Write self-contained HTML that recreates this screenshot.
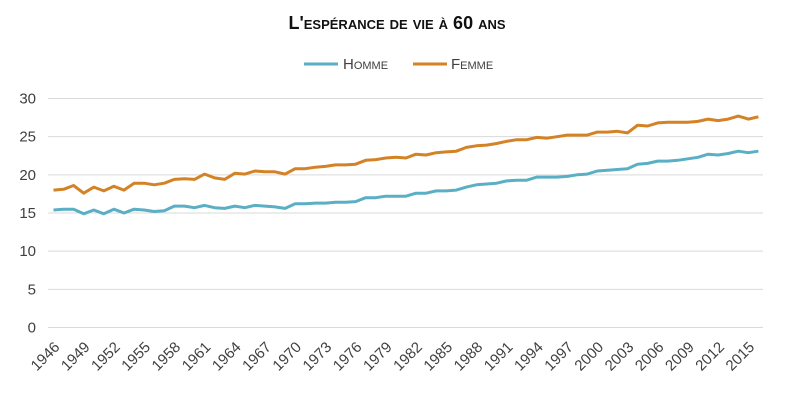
<!DOCTYPE html>
<html><head><meta charset="utf-8"><style>
body{margin:0;background:#fff;}
svg{display:block;font-family:"Liberation Sans",sans-serif;}
</style></head><body>
<svg id="c" width="790" height="400" viewBox="0 0 790 400" xmlns="http://www.w3.org/2000/svg">
<text x="397" y="29" text-anchor="middle" font-size="18" font-weight="bold" fill="#111" style="font-variant:small-caps">L'espérance de vie à 60 ans</text>
<line x1="304" y1="64" x2="338" y2="64" stroke="#5aafc5" stroke-width="3"/>
<text x="343" y="69" font-size="15" fill="#404040" style="font-variant:small-caps">Homme</text>
<line x1="413" y1="64" x2="447" y2="64" stroke="#d38225" stroke-width="3"/>
<text x="451" y="69" font-size="15" fill="#404040" style="font-variant:small-caps">Femme</text>
<g id="grid"></g>
<polyline id="h" fill="none" stroke="#5aafc5" stroke-width="3" stroke-linejoin="round"/>
<polyline id="f" fill="none" stroke="#d38225" stroke-width="3" stroke-linejoin="round"/>
</svg>
<script>
var H=[15.4,15.5,15.5,14.9,15.4,14.9,15.5,15.0,15.5,15.4,15.2,15.3,15.9,15.9,15.7,16.0,15.7,15.6,15.9,15.7,16.0,15.9,15.8,15.6,16.2,16.2,16.3,16.3,16.4,16.4,16.5,17.0,17.0,17.2,17.2,17.2,17.6,17.6,17.9,17.9,18.0,18.4,18.7,18.8,18.9,19.2,19.3,19.3,19.7,19.7,19.7,19.8,20.0,20.1,20.5,20.6,20.7,20.8,21.4,21.5,21.8,21.8,21.9,22.1,22.3,22.7,22.6,22.8,23.1,22.9,23.1];
var F=[18.0,18.1,18.6,17.6,18.4,17.9,18.5,18.0,18.9,18.9,18.7,18.9,19.4,19.5,19.4,20.1,19.6,19.4,20.2,20.1,20.5,20.4,20.4,20.1,20.8,20.8,21.0,21.1,21.3,21.3,21.4,21.9,22.0,22.2,22.3,22.2,22.7,22.6,22.9,23.0,23.1,23.6,23.8,23.9,24.1,24.4,24.6,24.6,24.9,24.8,25.0,25.2,25.2,25.2,25.6,25.6,25.7,25.5,26.5,26.4,26.8,26.9,26.9,26.9,27.0,27.3,27.1,27.3,27.7,27.3,27.6];
function X(i){return 53.5+i*10.07;}
function Y(v){return 327.5-v*7.633;}
var ns="http://www.w3.org/2000/svg",g=document.getElementById('grid');
function el(t,a,txt){var e=document.createElementNS(ns,t);for(var k in a)e.setAttribute(k,a[k]);if(txt!=null)e.textContent=txt;g.appendChild(e);return e;}
for(var v=0;v<=30;v+=5){var y=Y(v);el('line',{x1:48,x2:763,y1:y,y2:y,stroke:'#d9d9d9','stroke-width':1});
el('text',{x:36,y:y+5,'text-anchor':'end','font-size':15,fill:'#404040'},v);}
for(var i=0;i<71;i+=3){var x=X(i)+7,y=348;el('text',{x:x,y:y,'text-anchor':'end','font-size':15,fill:'#404040',transform:'rotate(-45 '+x+' '+y+')'},1946+i);}
function pts(a){return a.map(function(v,i){return X(i).toFixed(1)+','+Y(v).toFixed(1)}).join(' ');}
document.getElementById('h').setAttribute('points',pts(H));
document.getElementById('f').setAttribute('points',pts(F));
</script>
</body></html>
